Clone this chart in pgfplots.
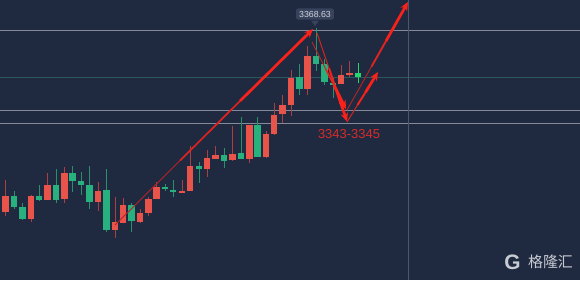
\documentclass[border=0pt]{standalone}
\usepackage{pgfplots}
\pgfplotsset{compat=1.18}
\usepackage{pgfplotstable}
\usepackage{fontspec}
\setmainfont{Liberation Sans}
\newfontfamily\cjk{Noto Sans CJK SC}
\usetikzlibrary{arrows.meta}
\definecolor{bgc}{RGB}{31,42,65}
\definecolor{redc}{RGB}{232,84,74}
\definecolor{redw}{RGB}{170,64,66}
\definecolor{grnc}{RGB}{40,176,126}
\definecolor{grnw}{RGB}{38,145,106}
\definecolor{grnb}{RGB}{40,212,110}
\definecolor{linec}{RGB}{132,138,152}
\definecolor{tealc}{RGB}{44,88,92}
\definecolor{vlinec}{RGB}{78,86,108}
\definecolor{arrc}{RGB}{248,34,26}
\definecolor{tagc}{RGB}{55,66,92}
\definecolor{tagt}{RGB}{208,212,222}
\definecolor{lblc}{RGB}{214,44,40}
\definecolor{wmc}{RGB}{200,203,210}

% candle data: x, body top (t), body bottom (b), high (h), low (l) -- vertical position on chart scale
\pgfplotstableread{
x     t     b     h     l
5.5   196   212   180   216
31    196   219   195   222
47.5  185   200   173   200
64.5  173   199   167   203
98    191   202   182   211
115   222   230   197   238
123   205   223   198   223
140   213   222   209   223
148.5 199   213   197   216
156.5 187   199   182   199
182   191   193   180   193
190   166   191   146   191
207   158   169   150   177
215.5 155   159   146   159
232.5 154   160   126   161
249.5 125   159   125   163
266   134   157   131   158
274   115   134   103   135
282.5 105   114   95    123
291   78    105   70    116
307.5 56    89    46    95
341   75    84    65    84
349.5 73    74.5  61    77
}\redtab

\pgfplotstableread{
x     t     b     h     l
14    196   207   191   209
22.3  207   219   203   220
39    196   200   185   201
56    185   200   169   203
72.5  173   181   166   192
81    181   185   172   195
89.5  185   202   166   209
106.5 190   230   169   232
131.5 205   221   203   232
165   187   188.5 184   191
173   190   192   180   197
199   166   169   162   183
224   155   161   148   168
241   153   159   117   159
257.5 125   157   117   157
299.5 77    89    64    95
316   56    64    28    71
324.5 64    82    59    85
333   83    84.5  78    98
}\grntab

\pgfplotstableread{
x     t     b     h     l
358   73    77    63    83
}\grnbtab

\pgfplotsset{
  wick/.style={mark=none, line cap=butt, line width=1bp, draw=#1,
    quiver={u=0, v={\thisrow{l}-\thisrow{h}},
      every arrow/.append style={draw=#1, line width=1bp, line cap=butt}}},
  body/.style={mark=none, line cap=butt, line width=6.4bp, draw=#1,
    quiver={u=0, v={max(\thisrow{b}-\thisrow{t},1.6)},
      every arrow/.append style={draw=#1, line width=6.4bp, line cap=butt}}},
  headseg/.style={arrc, line width=2.7bp, -{Stealth[length=8.5bp,width=7.5bp]}},
}

\begin{document}
\begin{tikzpicture}
\begin{axis}[
  width=580bp, height=280bp, scale only axis,
  xmin=0, xmax=580, ymin=0, ymax=280, y dir=reverse,
  axis lines=none, ticks=none,
  axis background/.style={fill=bgc},
  clip=true,
]
% guide lines
\addplot[linec, line width=0.9bp] coordinates {(0,30) (580,30)};
\addplot[tealc, line width=0.9bp] coordinates {(0,77) (580,77)};
\addplot[linec, line width=0.9bp] coordinates {(0,110.5) (580,110.5)};
\addplot[linec, line width=0.9bp] coordinates {(0,123) (580,123)};
\addplot[vlinec, line width=0.9bp] coordinates {(408.5,0) (408.5,280)};

% wicks
\addplot[wick=redw] table[x=x, y=h] {\redtab};
\addplot[wick=grnw] table[x=x, y=h] {\grntab};
\addplot[wick=grnb] table[x=x, y=h] {\grnbtab};
% bodies
\addplot[body=redc] table[x=x, y=t] {\redtab};
\addplot[body=grnc] table[x=x, y=t] {\grntab};
\addplot[body=grnb] table[x=x, y=t] {\grnbtab};

% tapered arrows
% arrow 1 (long up)
\addplot[arrc!70!bgc, line width=0.9bp] coordinates {(115,225) (180,160.6)};
\addplot[arrc!88!bgc, line width=1.7bp] coordinates {(180,160.6) (240,101)};
\addplot[headseg] coordinates {(240,101) (313,29)};
% arrow A (down to lower line)
\addplot[arrc!85!bgc, line width=1bp] coordinates {(317,33) (329,68.2)};
\addplot[arrc, line width=1.9bp] coordinates {(329,68.2) (336,89)};
\addplot[headseg] coordinates {(336,89) (347,121.5)};
% arrow B (down to upper line)
\addplot[arrc!75!bgc, line width=0.9bp] coordinates {(312,42) (325.6,68.8)};
\addplot[arrc!92!bgc, line width=1.6bp] coordinates {(325.6,68.8) (334,85.3)};
\addplot[headseg] coordinates {(334,85.3) (346,109)};
% arrow C (long up right)
\addplot[arrc!70!bgc, line width=0.9bp] coordinates {(347,110) (371.4,66.8)};
\addplot[arrc!92!bgc, line width=1.8bp] coordinates {(371.4,66.8) (386,41)};
\addplot[headseg] coordinates {(386,41) (408,2)};
% arrow D (short up)
\addplot[arrc!85!bgc, line width=1bp] coordinates {(347,122) (357.5,105)};
\addplot[arrc, line width=1.9bp] coordinates {(357.5,105) (365.5,92.3)};
\addplot[headseg] coordinates {(365.5,92.3) (378,72)};

% price tag
\fill[tagc] (311,20.5) -- (319,20.5) -- (315,26) -- cycle;
\node[fill=tagc, rounded corners=2bp, text=tagt, inner xsep=3bp, inner ysep=2.5bp,
  font=\fontsize{8.8}{9}\selectfont] at (315,14) {3368.63};
% target label
\node[text=lblc, font=\fontsize{13}{13}\selectfont] at (349,134.5) {3343-3345};
% watermark
\node[text=wmc, font=\fontsize{21}{21}\selectfont\bfseries, inner sep=0pt] at (512.5,262) {G};
\node[text=wmc, font=\cjk\fontsize{15}{15}\selectfont, inner sep=0pt] at (550.5,262) {格隆汇};
\end{axis}
\end{tikzpicture}
\end{document}
